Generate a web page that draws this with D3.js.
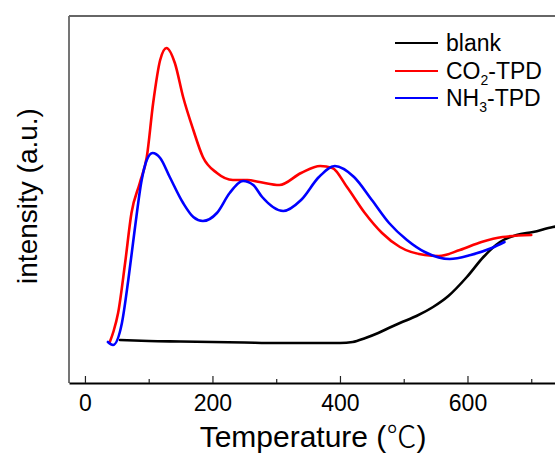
<!DOCTYPE html>
<html>
<head>
<meta charset="utf-8">
<script src="https://cdn.jsdelivr.net/npm/d3@7"></script>
<style>
  html, body { margin: 0; padding: 0; background: #fff; }
  svg { display: block; font-family: "Liberation Sans", Arial, sans-serif; }
</style>
</head>
<body>
<svg id="chart" width="555" height="455"></svg>
<script>
// Temperature (°C) and intensity (a.u.)
const blankT = [55,100,150,200,250,300,350,400,420,440,460,480,494,520,546,570,599,625,651,677,703,734,760];
const blankV = [43,42,41.5,41,40.5,40,40,40,41,45,50,56,60,67,76,87,106,126,141,148,151,156,158];

const co2T = [39,45,52,63,73,86,97,107,118,128,141,154,170,185,207,232,255,274,305,339,369,388,411,439,466,494,533,555,588,622,655,700];
const co2V = [41,52,70,120,170,200,226,280,323,335,320,286,253,226,210,203,203,201,198,210,217,215,196,170,150,136,128,127,133,141,146,148];

const nh3T = [36,44,58,68,78,89,97,106,118,133,154,170,185,207,227,248,264,278,311,339,367,392,422,450,477,505,533,572,605,638,658];
const nh3V = [41,38,60,103,153,203,223,230,225,206,180,166,162,170,190,202,198,186,172,183,206,217,206,183,160,143,131,124,128,135,141];

const xMajorTicks = [0,200,400,600];
const xMinorTicks = [100,300,500,700];

const seriesNames = ["blank", "CO2-TPD", "NH3-TPD"];
const seriesColors = ["#000000", "#ff0000", "#0000ff"];

const svg = d3.select("#chart");
const mLeft = 69, mTop = 16, mBottom = 383, mRight = 595;

const x = d3.scaleLinear().domain([-25, 800]).range([mLeft, mRight]);
const y = d3.scaleLinear().domain([0, 367]).range([mBottom, mTop]);

svg.append("defs").append("clipPath").attr("id", "clip")
  .append("rect").attr("x", mLeft).attr("y", mTop).attr("width", mRight - mLeft).attr("height", mBottom - mTop);

// frame (left + top, gray)
svg.append("line").attr("x1", mLeft).attr("x2", mLeft).attr("y1", mTop).attr("y2", mBottom)
  .attr("stroke", "#666").attr("stroke-width", 1.8);
svg.append("line").attr("x1", mLeft).attr("x2", mRight).attr("y1", mTop).attr("y2", mTop)
  .attr("stroke", "#666").attr("stroke-width", 1.8);

// x axis
const gx = svg.append("g").attr("transform", `translate(0,${mBottom})`)
  .call(d3.axisBottom(x).tickValues(xMajorTicks).tickSizeInner(-7).tickSizeOuter(0).tickPadding(12).tickFormat(d3.format("d")));
gx.select(".domain").attr("stroke", "#000").attr("stroke-width", 1.8);
gx.selectAll(".tick line").attr("stroke", "#222").attr("stroke-width", 1.2);
gx.selectAll(".tick text").attr("font-size", 23).attr("fill", "#000").attr("font-family", "'Liberation Sans', Arial, sans-serif");

const gxm = svg.append("g").attr("transform", `translate(0,${mBottom})`)
  .call(d3.axisBottom(x).tickValues(xMinorTicks).tickSizeInner(-4).tickSizeOuter(0).tickFormat(""));
gxm.select(".domain").remove();
gxm.selectAll(".tick line").attr("stroke", "#222").attr("stroke-width", 1.2);

// lines
const line = d3.line().x(d => x(d[0])).y(d => y(d[1])).curve(d3.curveMonotoneX);
const data = [
  d3.zip(blankT, blankV),
  d3.zip(co2T, co2V),
  d3.zip(nh3T, nh3V)
];
const plot = svg.append("g").attr("clip-path", "url(#clip)");
plot.selectAll("path.series").data(data).join("path")
  .attr("class", "series")
  .attr("d", line)
  .attr("fill", "none")
  .attr("stroke", (d, i) => seriesColors[i])
  .attr("stroke-width", 2.6)
  .attr("stroke-linejoin", "round")
  .attr("stroke-linecap", "round");

// axis labels
const xl = svg.append("text").attr("x", 313).attr("y", 447).attr("text-anchor", "middle")
  .attr("font-size", 30).attr("fill", "#000");
xl.append("tspan").text("Temperature (");
xl.append("tspan").attr("font-family", "'Noto Sans CJK SC', sans-serif").attr("font-weight", 300).text("℃");
xl.append("tspan").text(")");
svg.append("text").attr("transform", "translate(37,196) rotate(-90)").attr("text-anchor", "middle")
  .attr("font-size", 28).attr("fill", "#000").text("intensity (a.u.)");

// legend
const legendY = [43, 71, 98];
const lg = svg.append("g");
seriesNames.forEach((name, i) => {
  lg.append("line").attr("x1", 395).attr("x2", 438).attr("y1", legendY[i]).attr("y2", legendY[i])
    .attr("stroke", seriesColors[i]).attr("stroke-width", 2.2);
  const t = lg.append("text").attr("x", 446).attr("y", legendY[i] + 8).attr("font-size", 23).attr("fill", "#000");
  if (i === 0) {
    t.text("blank");
  } else {
    const base = i === 1 ? "CO" : "NH";
    const sub = i === 1 ? "2" : "3";
    t.append("tspan").text(base);
    t.append("tspan").attr("font-size", 14).attr("dy", 6).text(sub);
    t.append("tspan").attr("dy", -6).text("-TPD");
  }
});
</script>
</body>
</html>
